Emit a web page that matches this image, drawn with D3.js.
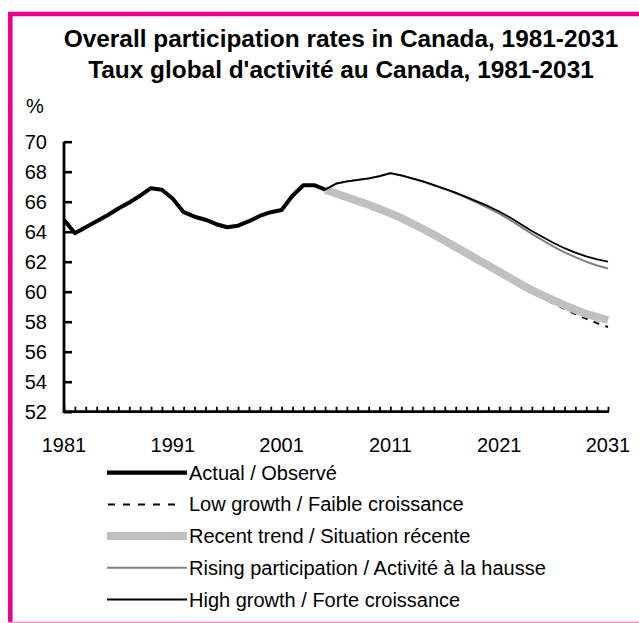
<!DOCTYPE html>
<html>
<head>
<meta charset="utf-8">
<script src="https://cdn.jsdelivr.net/npm/d3@7"></script>
<style>
  body { margin: 0; background: #fff; }
  text { font-family: "Liberation Sans", Arial, sans-serif; fill: #000; }
</style>
</head>
<body>
<div id="vis"></div>
<script>
// Chart data
var titleLines = ['Overall participation rates in Canada, 1981-2031',
                  "Taux global d'activité au Canada, 1981-2031"];
var yTicks = [52, 54, 56, 58, 60, 62, 64, 66, 68, 70];
var xTickLabels = [1981, 1991, 2001, 2011, 2021, 2031];

var actualYears = d3.range(1981, 2006);
var actualValues = [64.8, 63.9, 64.3, 64.7, 65.1, 65.55, 65.95, 66.4, 66.9, 66.8,
                    66.2, 65.3, 65.0, 64.8, 64.5, 64.3, 64.4, 64.7, 65.05, 65.3,
                    65.45, 66.4, 67.1, 67.1, 66.8];

var projYears = d3.range(2005, 2032);
var highValues = [66.8, 67.2, 67.35, 67.45, 67.55, 67.7, 67.9, 67.75, 67.55, 67.35,
                  67.1, 66.85, 66.6, 66.3, 66.0, 65.7, 65.35, 64.95, 64.5, 64.05,
                  63.65, 63.25, 62.9, 62.6, 62.35, 62.15, 62.0];
var risingValues = [66.8, 67.2, 67.35, 67.45, 67.55, 67.7, 67.9, 67.75, 67.55, 67.35,
                    67.1, 66.85, 66.55, 66.25, 65.92, 65.58, 65.2, 64.78, 64.32, 63.85,
                    63.42, 63.0, 62.62, 62.3, 62.0, 61.75, 61.55];
var recentValues = [66.8, 66.55, 66.3, 66.05, 65.8, 65.52, 65.22, 64.9, 64.55, 64.18,
                    63.8, 63.4, 62.98, 62.56, 62.15, 61.74, 61.33, 60.92, 60.5, 60.1,
                    59.75, 59.42, 59.1, 58.8, 58.52, 58.3, 58.1];
var lowValues = [66.8, 66.55, 66.3, 66.05, 65.8, 65.52, 65.22, 64.9, 64.55, 64.18,
                 63.8, 63.4, 62.98, 62.56, 62.15, 61.74, 61.33, 60.92, 60.45, 60.0,
                 59.6, 59.2, 58.85, 58.5, 58.2, 57.9, 57.65];

var legendLabels = ['Actual / Observé',
                    'Low growth / Faible croissance',
                    'Recent trend / Situation récente',
                    'Rising participation / Activité à la hausse',
                    'High growth / Forte croissance'];

// Sizing
var width = 639;
var height = 623;
var plot = { left: 64, right: 608, top: 141.7, bottom: 411.7 };

var svg = d3.select('#vis')
  .append('svg')
  .attr('width', width)
  .attr('height', height);

// magenta frame, open to the right
svg.append('path')
  .attr('d', 'M10.3,640 V14 H660')
  .attr('fill', 'none')
  .attr('stroke', '#ec008c')
  .attr('stroke-width', 4.6);
svg.append('line')
  .attr('x1', 8).attr('x2', 639)
  .attr('y1', 622.5).attr('y2', 622.5)
  .attr('stroke', '#f48cc6')
  .attr('stroke-width', 1.5);

// Titles
svg.selectAll('.title')
  .data(titleLines)
  .enter().append('text')
  .attr('class', 'title')
  .attr('x', 341)
  .attr('y', function (d, i) { return 47 + i * 31; })
  .attr('text-anchor', 'middle')
  .style('font-size', '24.4px')
  .style('font-weight', 'bold')
  .text(function (d) { return d; });

svg.append('text')
  .attr('x', 26)
  .attr('y', 113)
  .style('font-size', '20px')
  .text('%');

// Scales
var x = d3.scaleLinear().domain([1981, 2031]).range([plot.left, plot.right]);
var y = d3.scaleLinear().domain([52, 70]).range([plot.bottom, plot.top]);

// Y axis, ticks pointing inward
var yAxis = d3.axisRight(y)
  .tickValues(yTicks)
  .tickSize(8)
  .tickFormat('');
var gy = svg.append('g')
  .attr('transform', 'translate(' + plot.left + ',0)')
  .call(yAxis);
gy.select('.domain').remove();
gy.selectAll('.tick line').attr('stroke', '#000').attr('stroke-width', 2.6);

svg.selectAll('.ylab')
  .data(yTicks)
  .enter().append('text')
  .attr('class', 'ylab')
  .attr('x', 47)
  .attr('y', function (d) { return y(d) + 7; })
  .attr('text-anchor', 'end')
  .style('font-size', '20px')
  .text(function (d) { return d; });

// X axis, a tick every year pointing inward
var xAxis = d3.axisTop(x)
  .tickValues(d3.range(1981, 2032))
  .tickSize(5)
  .tickFormat('');
var gx = svg.append('g')
  .attr('transform', 'translate(0,' + plot.bottom + ')')
  .call(xAxis);
gx.select('.domain').remove();
gx.selectAll('.tick line').attr('stroke', '#000').attr('stroke-width', 1.8);

svg.selectAll('.xlab')
  .data(xTickLabels)
  .enter().append('text')
  .attr('class', 'xlab')
  .attr('x', function (d) { return x(d); })
  .attr('y', 452)
  .attr('text-anchor', 'middle')
  .style('font-size', '20px')
  .text(function (d) { return d; });

// axis lines
svg.append('path')
  .attr('d', 'M' + plot.left + ',' + plot.top + ' V' + plot.bottom + ' H' + (plot.right + 1))
  .attr('fill', 'none')
  .attr('stroke', '#000')
  .attr('stroke-width', 2.8);

// Series
var series = [
  { name: 'low', years: projYears, values: lowValues, color: '#000', width: 2, dash: '6,6.5' },
  { name: 'recent', years: projYears, values: recentValues, color: '#c0c0c0', width: 8, dash: null },
  { name: 'rising', years: projYears, values: risingValues, color: '#808080', width: 2, dash: null },
  { name: 'high', years: projYears, values: highValues, color: '#000', width: 1.8, dash: null },
  { name: 'actual', years: actualYears, values: actualValues, color: '#000', width: 4, dash: null }
];

var line = d3.line()
  .x(function (d) { return x(d[0]); })
  .y(function (d) { return y(d[1]); });

svg.selectAll('.series')
  .data(series)
  .enter().append('path')
  .attr('class', 'series')
  .attr('fill', 'none')
  .attr('stroke', function (d) { return d.color; })
  .attr('stroke-width', function (d) { return d.width; })
  .attr('stroke-dasharray', function (d) { return d.dash; })
  .attr('stroke-linejoin', 'round')
  .attr('d', function (d) { return line(d3.zip(d.years, d.values)); });

// Legend, same order as the reference
var legendStyle = [series[4], series[0], series[1], series[2], series[3]];
var legend = svg.selectAll('.legend')
  .data(legendLabels)
  .enter().append('g')
  .attr('class', 'legend')
  .attr('transform', function (d, i) { return 'translate(0,' + (472.7 + i * 31.7) + ')'; });

legend.append('line')
  .attr('x1', function (d, i) { return i === 1 ? 108 : 107; })
  .attr('x2', function (d, i) { return i === 1 ? 176 : 187; })
  .attr('stroke', function (d, i) { return legendStyle[i].color; })
  .attr('stroke-width', function (d, i) { return i === 0 ? 4.3 : legendStyle[i].width; })
  .attr('stroke-dasharray', function (d, i) { return i === 1 ? '7,8' : null; });

legend.append('text')
  .attr('x', 189)
  .attr('y', 7)
  .style('font-size', '20px')
  .text(function (d) { return d; });
</script>
</body>
</html>
